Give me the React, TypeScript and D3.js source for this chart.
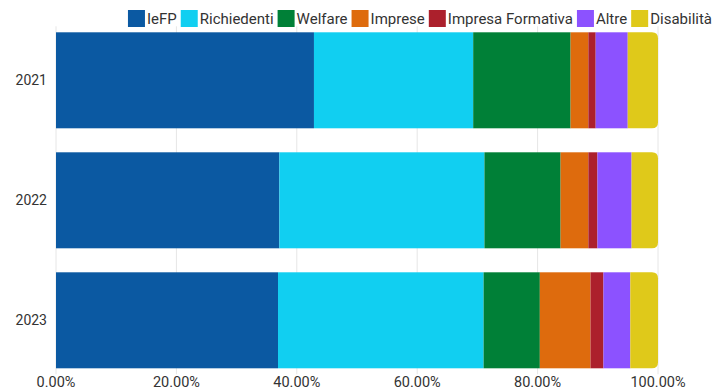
import React from "react";
import * as d3 from "d3";

const years = ["2021", "2022", "2023"];
const seriesNames = ["IeFP", "Richiedenti", "Welfare", "Imprese", "Impresa Formativa", "Altre", "Disabilità"];
const seriesColors = ["#0b59a2", "#11cff1", "#008037", "#de6b0d", "#ac202c", "#8c52ff", "#dfc91a"];
const IeFP = [42.85, 37.1, 36.88];
const Richiedenti = [26.45, 34.07, 34.15];
const Welfare = [16.18, 12.65, 9.34];
const Imprese = [2.95, 4.61, 8.42];
const ImpresaFormativa = [1.22, 1.51, 2.15];
const Altre = [5.32, 5.67, 4.46];
const Disabilita = [5.03, 4.39, 4.6];
const xTicks = [0, 20, 40, 60, 80, 100];

const seriesValues = [IeFP, Richiedenti, Welfare, Imprese, ImpresaFormativa, Altre, Disabilita];

const W = 718;
const H = 390;
const FONT = "Roboto, 'Noto Sans', Arial, sans-serif";
const LEGEND_FS = 15;

function measure(text: string, size: number): number {
  try {
    const c = document.createElement("canvas").getContext("2d");
    if (c) {
      c.font = `${size}px Roboto`;
      return c.measureText(text).width;
    }
  } catch (e) {}
  return text.length * size * 0.55;
}

function roundRightRect(x: number, y: number, w: number, h: number, r: number) {
  const rr = Math.min(r, w, h / 2);
  return `M${x},${y}H${x + w - rr}Q${x + w},${y} ${x + w},${y + rr}V${y + h - rr}Q${x + w},${y + h} ${x + w - rr},${y + h}H${x}Z`;
}

export default function App() {
  const x = d3.scaleLinear().domain([0, 100]).range([56, 658]);
  const y = d3.scaleBand<string>().domain(years).range([26.3, 374.3]).paddingInner(0.2).paddingOuter(0.05);

  const table = years.map((yr, i) => {
    const row: any = { year: yr };
    seriesNames.forEach((s, j) => (row[s] = seriesValues[j][i]));
    return row;
  });
  const stacked = d3.stack<any>().keys(seriesNames)(table);

  // legend layout, right-aligned
  const sw = 17;
  const gapText = 2;
  const gapItem = 4;
  const widths = seriesNames.map((n) => measure(n, LEGEND_FS));
  const total = widths.reduce((a, b) => a + b, 0) + seriesNames.length * (sw + gapText) + (seriesNames.length - 1) * gapItem;
  let lx = 712 - total;
  const legendItems: { name: string; color: string; x: number; tx: number }[] = [];
  seriesNames.forEach((n, i) => {
    legendItems.push({ name: n, color: seriesColors[i], x: lx, tx: lx + sw + gapText });
    lx += sw + gapText + widths[i] + gapItem;
  });

  const [y0, y1] = y.range();

  return (
    <svg width={W} height={H} style={{ position: "absolute", left: 0, top: 0, fontFamily: FONT }}>
      <rect width={W} height={H} fill="#ffffff" />
      {xTicks.map((t) => (
        <line key={"g" + t} x1={x(t)} x2={x(t)} y1={y0} y2={y1} stroke="#e6e6e6" strokeWidth={1} />
      ))}
      {stacked.map((layer, li) =>
        layer.map((d, i) => {
          const yr = years[i];
          const bx = x(d[0]);
          const bw = x(d[1]) - x(d[0]);
          const by = y(yr)!;
          const bh = y.bandwidth();
          if (li === stacked.length - 1) {
            return <path key={li + "-" + i} d={roundRightRect(bx, by, bw, bh, 6)} fill={seriesColors[li]} />;
          }
          return <rect key={li + "-" + i} x={bx} y={by} width={bw} height={bh} fill={seriesColors[li]} />;
        })
      )}
      {years.map((yr) => (
        <text key={yr} x={47} y={y(yr)! + y.bandwidth() / 2} textAnchor="end" dominantBaseline="central" fontSize={14} fill="#333">
          {yr}
        </text>
      ))}
      {xTicks.map((t) => (
        <text key={"t" + t} x={x(t)} y={382} textAnchor="middle" dominantBaseline="central" fontSize={14.5} fill="#333">
          {d3.format(".2f")(t) + "%"}
        </text>
      ))}
      {legendItems.map((it) => (
        <g key={it.name}>
          <rect x={it.x} y={10} width={sw} height={17} fill={it.color} />
          <text x={it.tx} y={18.5} dominantBaseline="central" fontSize={LEGEND_FS} fill="#333">
            {it.name}
          </text>
        </g>
      ))}
    </svg>
  );
}
